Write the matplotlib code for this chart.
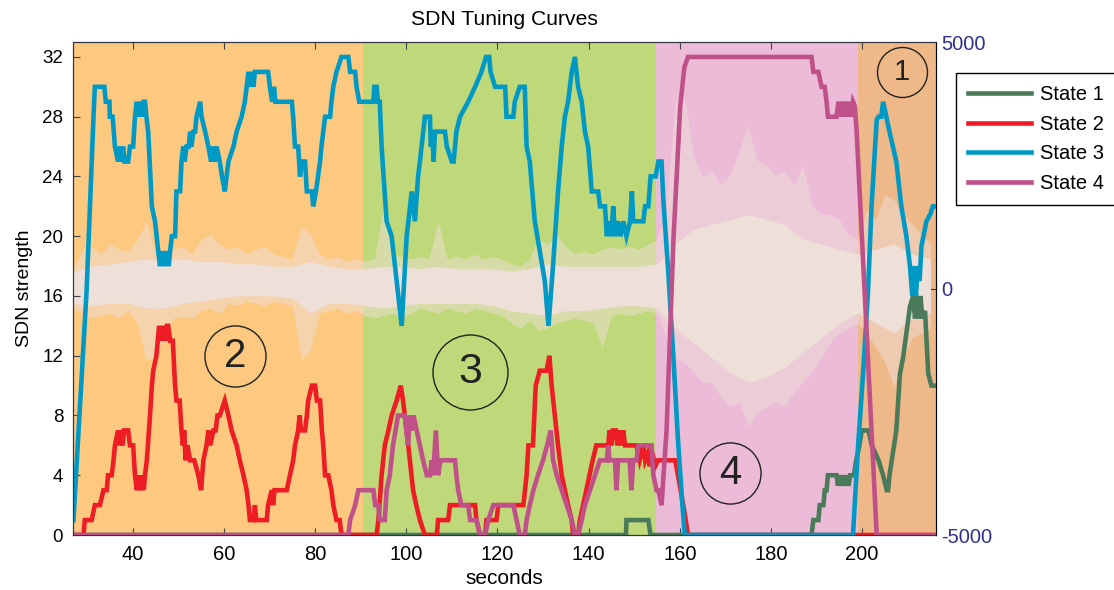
import numpy as np
import matplotlib
matplotlib.use("Agg")
from matplotlib import pyplot as plt

plt.rcParams['font.family'] = ['Liberation Sans', 'DejaVu Sans']
plt.rcParams['axes.unicode_minus'] = False

# state segments shown as background bands (seconds)
state_edges = [26.9, 90.5, 154.8, 199.2, 216.2]
state_bg = ['#FDC880', '#BFD879', '#EBBBD7', '#EEB888']

# raw signal (right axis), outer spike envelope every 2 s
noise_t = np.arange(27, 217, 2)
noise_hi = [400, 800, 850, 700, 900, 800, 750, 1000, 1350, 700,
            750, 800, 850, 700, 1000, 1100, 900, 800, 850, 700,
            800, 850, 700, 650, 600, 1250, 1100, 700, 600, 650,
            550, 600, 550, 600, 1650, 700, 650, 600, 650, 600,
            1380, 600, 650, 600, 700, 600, 650, 600, 500, 450,
            600, 1000, 900, 1100, 850, 700, 750, 700, 800, 850,
            800, 850, 800, 900, 1000, 1600, 3800, 3900, 2700, 2260,
            2400, 2100, 2300, 2800, 3300, 2600, 2500, 2300, 2400, 2100,
            2500, 1700, 1500, 1500, 1400, 1100, 1000, 1600, 1400, 1900,
            1800, 1500, 1300, 1100, 900]
noise_lo = [-400, -500, -600, -550, -500, -600, -450, -700, -1450, -1400,
            -900, -600, -550, -600, -450, -400, -500, -300, -350, -250,
            -300, -350, -250, -300, -350, -1450, -1250, -500, -450, -400,
            -500, -450, -550, -600, -550, -500, -600, -500, -400, -450,
            -500, -400, -450, -500, -400, -450, -500, -550, -700, -800,
            -650, -850, -800, -700, -650, -600, -650, -700, -1200, -550,
            -500, -550, -500, -450, -500, -1000, -1400, -1500, -1700, -1900,
            -1900, -2200, -2400, -2300, -2800, -2500, -2400, -2300, -2400, -2100,
            -1900, -1700, -1400, -1100, -900, -800, -700, -900, -1200, -1500,
            -2000, -1400, -1000, -900, -800]

# dense core of the raw signal, every 4 s
core_t = np.arange(27, 217, 4)
core_hi = [350, 450, 500, 550, 600, 600, 600, 550, 550, 500,
           500, 450, 450, 550, 450, 400, 400, 450, 450, 400,
           450, 400, 400, 400, 350, 400, 500, 450, 450, 450,
           450, 450, 500, 900, 1200, 1300, 1400, 1500, 1400, 1300,
           1000, 900, 800, 700, 800, 900, 700, 600]
core_lo = [-300, -350, -300, -300, -400, -400, -300, -250, -200, -150,
           -150, -150, -200, -500, -300, -300, -350, -400, -350, -300,
           -300, -300, -300, -350, -450, -500, -550, -450, -450, -400,
           -350, -350, -400, -800, -1100, -1400, -1700, -1900, -1800, -1600,
           -1300, -1000, -700, -500, -700, -900, -600, -500]

# SDN strength per state: (seconds, strength)
state1 = [(27.0, 0), (148.2, 0), (148.3, 1), (153.1, 1), (153.6, 0), (188.9, 0),
          (189.3, 1), (190.4, 1), (190.7, 2), (191.5, 2), (191.8, 3), (192.2, 3),
          (192.5, 4), (194.4, 4), (194.7, 3.3), (195.0, 4), (195.4, 3.3), (195.8, 4),
          (196.2, 3.3), (196.6, 4), (197.0, 3.3), (197.4, 4), (198.2, 4), (198.7, 5),
          (199.4, 6), (199.9, 7), (201.4, 7), (202.1, 6), (203.6, 5), (204.6, 4),
          (205.4, 3), (205.7, 3), (206.0, 4), (207.5, 7), (208.3, 10.8), (209.0, 11.9),
          (209.7, 13.5), (210.5, 15.3), (211.2, 16), (211.6, 14.5), (212.0, 16),
          (212.4, 14.5), (212.8, 16), (213.2, 14.5), (213.8, 15), (214.5, 10.8),
          (215.2, 10), (216.2, 10)]

state2 = [(27.0, 0), (29.2, 0), (29.5, 1), (31.0, 1), (31.7, 2), (32.8, 2), (33.6, 3),
          (34.3, 3), (34.6, 4), (35.4, 4), (35.8, 5), (36.1, 6), (36.8, 7), (37.1, 6),
          (37.4, 7), (37.8, 6), (38.1, 7), (39.0, 7), (39.4, 6), (40.1, 6), (40.5, 4),
          (40.9, 3), (41.3, 4), (41.7, 3), (42.1, 4), (42.4, 3), (42.7, 4), (43.1, 5),
          (43.8, 8), (44.2, 10), (44.5, 11), (45.2, 12), (45.8, 14), (46.3, 13),
          (46.7, 14), (47.1, 13), (47.5, 14), (47.8, 14), (48.2, 13), (48.8, 13),
          (49.3, 10), (49.6, 9), (50.3, 9), (50.7, 7), (51.0, 6), (51.3, 7), (51.6, 5),
          (52.0, 6), (52.6, 5), (53.5, 5), (54.4, 4), (55.0, 3), (55.5, 5), (56.2, 6),
          (56.6, 7), (57.0, 6), (57.7, 7), (58.2, 7), (58.6, 8), (59.1, 8), (60.2, 9),
          (61.0, 8), (61.7, 7), (62.8, 6), (63.5, 5), (64.3, 4), (65.0, 3), (65.4, 2),
          (65.7, 1), (66.5, 1), (66.8, 2), (67.1, 1), (69.4, 1), (69.7, 2), (70.5, 3),
          (70.8, 2), (71.1, 3), (73.8, 3), (74.5, 4), (75.2, 5), (75.6, 6), (76.3, 7),
          (76.6, 8), (76.9, 7), (77.8, 7), (78.2, 8), (78.5, 9), (79.3, 10), (80.0, 10),
          (80.4, 9), (81.1, 9), (81.5, 7), (81.8, 6), (82.2, 4), (82.9, 4), (83.6, 3),
          (84.0, 2), (84.7, 1), (85.4, 1), (85.8, 0), (93.5, 0), (93.9, 1), (94.6, 4),
          (95.3, 6), (96.1, 7), (96.8, 8), (97.9, 9), (98.8, 10), (99.3, 9), (100.1, 7),
          (100.8, 5), (101.5, 3), (102.2, 2), (103.0, 1), (104.1, 0), (106.7, 0),
          (107.0, 1), (109.2, 1), (109.6, 2), (115.1, 2), (115.4, 1), (116.2, 0),
          (117.3, 0), (117.6, 1), (119.8, 1), (120.2, 2), (125.7, 2), (126.4, 4),
          (126.8, 6), (127.8, 6), (128.4, 10), (129.3, 11), (130.8, 11), (131.4, 12),
          (131.9, 10), (132.6, 8), (133.3, 6), (134.1, 4), (134.8, 3), (135.5, 2),
          (136.3, 1), (136.6, 0), (137.7, 0), (138.1, 1), (138.8, 2), (139.5, 3),
          (140.2, 4), (140.9, 5), (141.7, 6), (144.3, 6), (144.6, 7), (145.0, 6),
          (145.3, 7), (146.0, 7), (146.3, 6), (146.9, 7), (147.3, 6), (147.6, 7),
          (148.0, 6), (150.5, 6), (151.2, 5), (152.0, 6), (152.4, 5), (153.0, 5.5),
          (153.4, 4.6), (154.0, 5.5), (154.6, 4.6), (155.2, 5), (159.0, 5), (160.2, 3),
          (161.3, 1), (161.8, 0), (216.2, 0)]

state3 = [(27.0, 1), (29.9, 16.4), (31.4, 28), (31.7, 30), (33.8, 30), (34.1, 29),
          (34.9, 29), (35.0, 28), (35.6, 28), (36.1, 26), (36.8, 25), (37.2, 26),
          (37.5, 25), (37.9, 26), (38.2, 25), (39.0, 25), (39.4, 26), (40.1, 26),
          (40.5, 28), (40.9, 29), (41.3, 28), (41.7, 29), (42.1, 28), (42.4, 29),
          (42.7, 29), (43.0, 28), (43.4, 27), (44.2, 22), (44.9, 21), (45.6, 19),
          (46.0, 18), (46.5, 19), (47.0, 18), (47.5, 19), (47.9, 18), (48.2, 19),
          (48.6, 20), (49.3, 20), (49.6, 23), (50.4, 23), (50.7, 25), (51.1, 26),
          (51.4, 25), (51.8, 26), (52.3, 26), (52.6, 27), (52.9, 26), (53.3, 27),
          (53.7, 27), (54.0, 28), (54.8, 29), (55.1, 28), (55.9, 27), (56.6, 26),
          (57.2, 25), (57.6, 26), (58.0, 25), (58.4, 26), (59.1, 25), (59.6, 24),
          (60.2, 23), (61.0, 25), (62.1, 26), (62.8, 27), (63.9, 28), (64.6, 29),
          (65.4, 31), (65.8, 30), (66.1, 31), (66.5, 30), (66.8, 31), (69.7, 31),
          (70.1, 30), (70.6, 29), (71.0, 30), (71.3, 29), (71.9, 29), (74.9, 29),
          (75.2, 28), (75.6, 26), (76.3, 26), (76.7, 24), (77.1, 25), (77.8, 25),
          (78.2, 23), (79.3, 23), (79.6, 22), (80.2, 23), (81.1, 25), (81.4, 26),
          (82.2, 28), (83.3, 28), (83.6, 29), (84.0, 30), (84.7, 31), (85.8, 32),
          (87.3, 32), (87.7, 31), (88.8, 31), (89.1, 30), (89.7, 29), (92.8, 29),
          (93.0, 30), (93.5, 30), (93.8, 29), (94.2, 29), (94.6, 26), (95.7, 21),
          (96.8, 20), (97.9, 17), (99.0, 14), (100.1, 20), (101.2, 23), (101.9, 21),
          (102.6, 24), (103.0, 25), (104.1, 28), (105.2, 28), (105.4, 26), (105.7, 27),
          (106.0, 25), (106.3, 27), (107.0, 27), (108.5, 27), (108.9, 26), (110.0, 25),
          (110.4, 25), (111.0, 27), (111.8, 28), (113.6, 29), (115.1, 30), (116.5, 31),
          (117.5, 32), (118.2, 32), (118.5, 31), (119.5, 30), (121.7, 30), (122.0, 28),
          (123.5, 28), (123.8, 29), (124.9, 30), (126.0, 30), (126.4, 26), (127.1, 25),
          (128.2, 21), (129.3, 19), (130.4, 17), (131.2, 14), (132.2, 18), (133.3, 23),
          (134.1, 26), (134.8, 28), (135.5, 29), (136.3, 31), (137.0, 32), (137.7, 30),
          (138.5, 29), (139.2, 27), (139.9, 26), (140.7, 23), (142.1, 23), (142.5, 22),
          (143.6, 22), (144.0, 20), (144.6, 21), (145.0, 20), (145.4, 22), (145.8, 20),
          (146.4, 21), (147.0, 20), (147.6, 21), (148.3, 20), (149.1, 21), (149.5, 23),
          (149.8, 21), (152.0, 21), (152.4, 22), (153.1, 22), (153.6, 24), (154.7, 24),
          (155.3, 25), (156.0, 25), (156.4, 22.4), (157.5, 17.5), (158.6, 11.9),
          (159.6, 6.4), (160.6, 1.9), (161.1, 0), (198.0, 0), (199.1, 5.9), (200.2, 10.8),
          (201.3, 16.4), (202.1, 22.2), (203.2, 27.8), (203.6, 28), (204.2, 28),
          (204.6, 29), (206.0, 27), (207.5, 25), (208.6, 22), (209.7, 20), (210.5, 18),
          (211.0, 16), (211.4, 18), (211.8, 16), (212.2, 18), (212.6, 17), (213.0, 19.3),
          (214.1, 21), (215.0, 21.5), (215.5, 22), (216.2, 22)]

state4 = [(27.0, 0), (87.3, 0), (87.7, 1), (88.8, 2), (89.5, 3), (92.8, 3), (93.2, 2),
          (93.9, 2), (94.2, 1), (95.3, 1), (95.7, 3), (96.4, 4), (97.1, 6), (98.2, 8),
          (99.7, 8), (100.0, 7), (100.4, 6), (100.8, 8), (101.2, 7), (101.6, 8),
          (102.3, 7), (103.0, 6), (103.7, 5), (104.5, 4), (105.2, 4), (105.6, 5),
          (105.9, 4), (106.5, 7), (107.0, 4), (107.5, 5), (110.7, 5), (111.0, 4),
          (111.4, 3), (112.1, 2), (113.6, 2), (114.0, 1), (115.4, 1), (116.2, 0),
          (117.3, 0), (118.0, 1), (119.1, 2), (123.5, 2), (124.2, 1), (124.9, 0),
          (126.0, 0), (126.4, 1), (127.1, 2), (127.9, 3), (128.9, 4), (130.0, 5),
          (130.9, 6), (131.7, 7), (132.2, 5), (133.0, 4), (134.1, 3), (135.2, 2),
          (136.3, 1), (137.0, 0), (137.7, 0), (138.5, 1), (139.2, 2), (140.3, 3),
          (141.4, 4), (142.5, 5), (144.0, 5), (144.3, 6), (144.6, 5), (145.8, 5),
          (146.1, 3), (146.5, 5), (149.0, 5), (149.4, 3), (149.8, 5), (150.5, 5),
          (150.9, 6), (153.8, 6), (154.2, 4), (154.9, 3), (155.3, 3), (156.0, 2),
          (157.1, 7), (158.6, 19.7), (160.1, 28.7), (161.0, 31.3), (161.8, 32),
          (188.9, 32), (189.3, 31), (190.4, 31), (191.1, 30), (191.8, 30), (192.2, 29),
          (192.5, 28), (194.4, 28), (194.8, 29), (195.2, 28), (195.6, 29), (196.0, 28),
          (196.4, 29), (196.8, 28), (197.2, 29), (197.6, 28), (198.0, 29), (198.4, 28.7),
          (198.8, 27), (203.2, 0), (216.2, 0)]

state_names = ['State 1', 'State 2', 'State 3', 'State 4']
line_colors = ['#4A7A5A', '#EE1C25', '#0099C6', '#C0508A']

# circled state numbers: (label, seconds, strength, font size, circle size)
callouts = [('1', 208.7, 31.0, 21, 36),
            ('2', 62.4, 12.0, 29, 44),
            ('3', 114.0, 10.9, 31, 54),
            ('4', 171.0, 4.15, 29, 44)]

fig = plt.figure(figsize=(11.14, 5.90), dpi=100)
ax = fig.add_axes([0.0655, 0.0932, 0.7747, 0.8356])
ax2 = ax.twinx()
ax.set_zorder(ax2.get_zorder() + 1)
ax.patch.set_visible(False)

# backgrounds and raw signal on the right axis
for i in range(len(state_bg)):
    ax2.axvspan(state_edges[i], state_edges[i + 1], color=state_bg[i], lw=0, zorder=0)
ax2.fill_between(noise_t, noise_lo, noise_hi, color='#EEDFD8', alpha=0.5, lw=0, zorder=1)
ax2.fill_between(core_t, core_lo, core_hi, color='#EEDFD8', lw=0, zorder=2)
ax2.set_ylim(-5000, 5000)
ax2.set_yticks([-5000, 0, 5000])
ax2.tick_params(direction='in', length=5, colors='#2E3192', labelsize=14.5)
ax2.spines['right'].set_color('#2E3192')

# tuning curves
handles = []
for data, name, col in zip([state1, state2, state3, state4], state_names, line_colors):
    t, v = np.array(data).T
    h, = ax.plot(t, v, color=col, lw=3.3, label=name, solid_joinstyle='miter')
    handles.append(h)

for txt, x, y, fs, ms in callouts:
    ax.plot([x], [y], marker='o', ms=ms, mfc='none', mec='#222222', mew=1.0)
    ax.text(x, y, txt, fontsize=fs, ha='center', va='center', color='#222222')

ax.set_xlim(state_edges[0], state_edges[-1])
ax2.set_xlim(state_edges[0], state_edges[-1])
ax.set_ylim(0, 33)
ax.set_yticks(np.arange(0, 33, 4))
ax.set_xticks(np.arange(40, 201, 20))
ax.tick_params(direction='in', top=True, length=5, labelsize=13.5, color='#444444')
ax.tick_params(axis='y', pad=7)
ax.tick_params(axis='x', labelsize=14.5, pad=7.5)
for s in ['left', 'top', 'bottom']:
    ax.spines[s].set_color('#333344')
    ax2.spines[s].set_color('#333344')

ax.set_title('SDN Tuning Curves', fontsize=15.2, pad=12)
ax.set_xlabel('seconds', fontsize=15, labelpad=3)
ax.set_ylabel('SDN strength', fontsize=14, labelpad=7)

fig.legend(handles, state_names, loc='upper left', bbox_to_anchor=(956 / 1114, (590 - 73) / 590),
           borderaxespad=0, frameon=True, fancybox=False, edgecolor='black', framealpha=1,
           fontsize=14.5, handlelength=3.1, handletextpad=0.45, labelspacing=0.52,
           borderpad=0.62)

fig.savefig('out.png', dpi=100)
